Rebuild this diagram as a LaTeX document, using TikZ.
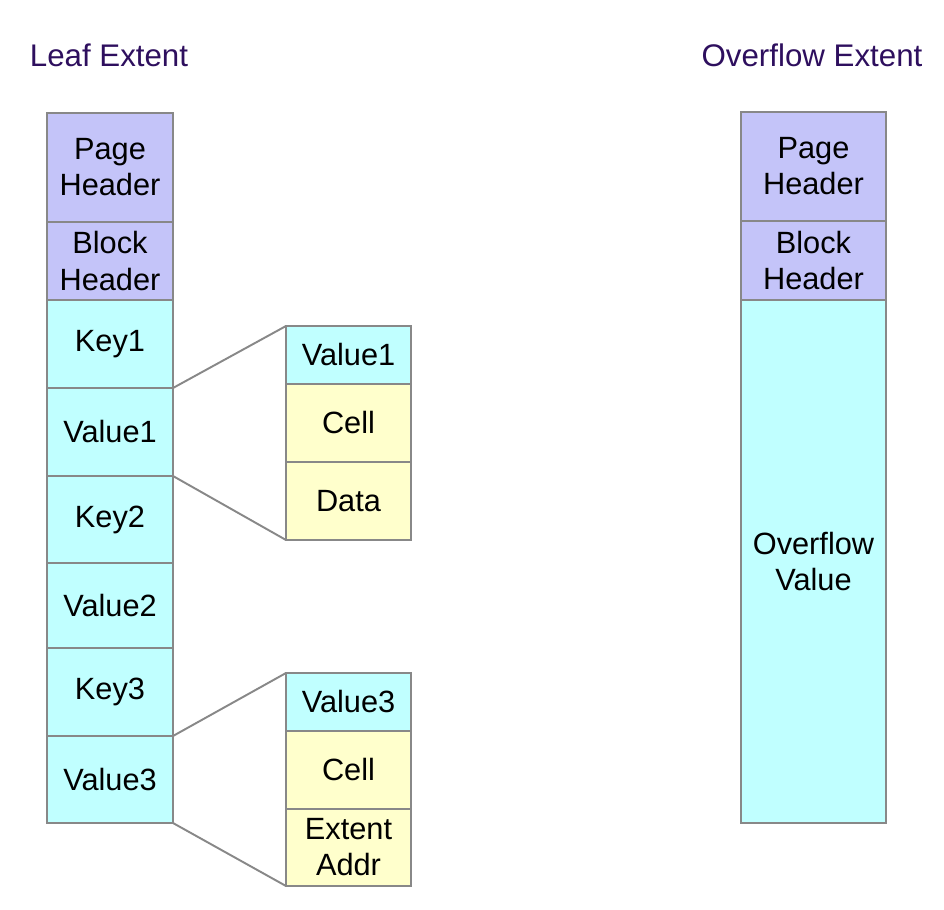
\documentclass[tikz,border=0pt]{standalone}
\usepackage{fontspec}
\setmainfont{Liberation Sans}
\usepackage{tikz}
\definecolor{headblue}{RGB}{196, 196, 249}
\definecolor{cellcyan}{RGB}{192, 255, 255}
\definecolor{cellyellow}{RGB}{255, 255, 204}
\definecolor{boxgray}{RGB}{136, 136, 136}
\definecolor{titlepurple}{RGB}{46, 15, 94}

\begin{document}
\begin{tikzpicture}[x=0.02cm, y=-0.02cm,
	cellbox/.style={rectangle, draw=boxgray, line width=1.1pt, inner sep=0pt, outer sep=0pt, align=center, font=\fontsize{17.5}{20.5}\selectfont},
	title/.style={text=titlepurple, font=\fontsize{17.8}{20}\selectfont},
	link/.style={draw=boxgray, line width=1.1pt}]
	\useasboundingbox (0,0) rectangle (944,910);
	% titles
	\node[title] (leaftitle) at (109,55) {Leaf Extent};
	\node[title] (ovftitle) at (812,55) {Overflow Extent};
	% leaf extent column
	\foreach \nm/\ya/\yb/\col/\txt in {ph/113/222/headblue/{Page\\Header}, bh/222/300/headblue/{Block\\Header},
		keya/300/388/cellcyan/Key1, vala/388/476/cellcyan/Value1, keyb/476/563/cellcyan/Key2,
		valb/563/648/cellcyan/Value2, keyc/648/736/cellcyan/Key3, valc/736/823/cellcyan/Value3} {
		\node[cellbox, fill=\col, minimum width=2.52cm, minimum height={(\yb-\ya)*0.02cm}]
		(\nm) at (110,{(\ya+\yb)/2}) {\txt};
	}
	% value details
	\foreach \nm/\ya/\yb/\col/\txt in {dva/326/384/cellcyan/Value1, dca/384/462/cellyellow/Cell, dda/462/540/cellyellow/Data,
		dvc/673/731/cellcyan/Value3, dcc/731/809/cellyellow/Cell, ddc/809/886/cellyellow/{Extent\\Addr}} {
		\node[cellbox, fill=\col, minimum width=2.5cm, minimum height={(\yb-\ya)*0.02cm}]
		(\nm) at (348.5,{(\ya+\yb)/2}) {\txt};
	}
	\draw[link] (vala.north east) -- (dva.north west);
	\draw[link] (vala.south east) -- (dda.south west);
	\draw[link] (valc.north east) -- (dvc.north west);
	\draw[link] (valc.south east) -- (ddc.south west);
	% overflow extent column
	\foreach \nm/\ya/\yb/\col/\txt in {oph/112/221/headblue/{Page\\Header}, obh/221/300/headblue/{Block\\Header},
		oval/300/823/cellcyan/{Overflow\\Value}} {
		\node[cellbox, fill=\col, minimum width=2.9cm, minimum height={(\yb-\ya)*0.02cm}]
		(\nm) at (813.5,{(\ya+\yb)/2}) {\txt};
	}
\end{tikzpicture}
\end{document}
